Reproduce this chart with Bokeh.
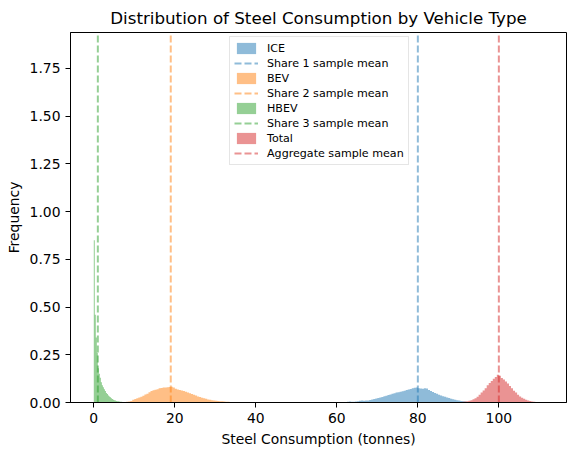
import numpy as np
from bokeh.plotting import figure
from bokeh.models import Legend, LegendItem, FixedTicker, Range1d, CustomJSTickFormatter
from bokeh.embed import file_html
from bokeh.resources import INLINE

# ---------------- data ----------------
categories = ["ICE", "BEV", "HBEV", "Total"]
mean_labels = ["Share 1 sample mean", "Share 2 sample mean", "Share 3 sample mean", "Aggregate sample mean"]
sample_means = [80.0, 19.0, 1.0, 100.0]

ice_start, ice_width = 62.0, 0.5
ice_density = [0.002, 0.004, 0.005, 0.004, 0.004, 0.005, 0.007, 0.009, 0.010, 0.009,
               0.010, 0.011, 0.013, 0.016, 0.018, 0.021, 0.023, 0.026, 0.029, 0.033,
               0.036, 0.039, 0.042, 0.046, 0.049, 0.052, 0.054, 0.056, 0.059, 0.062,
               0.065, 0.068, 0.071, 0.075, 0.077, 0.079, 0.075, 0.073, 0.072, 0.074,
               0.073, 0.066, 0.060, 0.055, 0.050, 0.046, 0.041, 0.037, 0.033, 0.030,
               0.026, 0.023, 0.020, 0.017, 0.015, 0.012, 0.010, 0.008, 0.006, 0.005,
               0.003, 0.002]

bev_start, bev_width = 7.5, 0.5
bev_density = [0.003, 0.004, 0.005, 0.008, 0.014, 0.018, 0.022, 0.026, 0.030, 0.035,
               0.042, 0.046, 0.054, 0.060, 0.064, 0.067, 0.070, 0.074, 0.076, 0.078,
               0.079, 0.080, 0.081, 0.082, 0.079, 0.072, 0.068, 0.066, 0.063, 0.060,
               0.056, 0.052, 0.048, 0.044, 0.041, 0.037, 0.032, 0.029, 0.025, 0.022,
               0.019, 0.016, 0.014, 0.012, 0.011, 0.009, 0.008, 0.007, 0.006, 0.005,
               0.004, 0.004, 0.003, 0.003, 0.002, 0.002, 0.001, 0.001]

hbev_start, hbev_width = 0.0, 0.25
hbev_density = [0.85, 0.46, 0.34, 0.26, 0.18, 0.15, 0.13, 0.106, 0.09, 0.08,
                0.07, 0.06, 0.05, 0.045, 0.037, 0.032, 0.027, 0.022, 0.018, 0.015,
                0.012, 0.010, 0.008, 0.007, 0.006, 0.005, 0.004, 0.004, 0.003, 0.003,
                0.002, 0.002, 0.002, 0.001, 0.001, 0.001]

total_start, total_width = 90.0, 0.5
total_density = [0.002, 0.003, 0.004, 0.005, 0.006, 0.009, 0.012, 0.017, 0.022, 0.030,
                 0.041, 0.052, 0.063, 0.075, 0.090, 0.102, 0.113, 0.124, 0.134, 0.146,
                 0.140, 0.128, 0.120, 0.110, 0.100, 0.086, 0.075, 0.062, 0.052, 0.040,
                 0.032, 0.025, 0.019, 0.014, 0.010, 0.008, 0.005, 0.004, 0.003, 0.002,
                 0.001, 0.001]

x_ticks = [0, 20, 40, 60, 80, 100]
y_ticks = [0.0, 0.25, 0.5, 0.75, 1.0, 1.25, 1.5, 1.75]

# ---------------- styling ----------------
colors = ["#1f77b4", "#ff7f0e", "#2ca02c", "#d62728"]
FONT = "DejaVu Sans"
X0, X1 = -5.75, 116.7
Y0, Y1 = 0.0, 1.938

p = figure(width=576, height=455, output_backend="svg", toolbar_location=None,
           x_range=Range1d(X0, X1), y_range=Range1d(Y0, Y1),
           title="Distribution of Steel Consumption by Vehicle Type",
           min_border_left=70, min_border_right=10, min_border_top=32, min_border_bottom=53)

p.title.text_font = FONT
p.title.text_font_size = "16.7px"
p.title.text_font_style = "normal"
p.title.align = "center"
p.title.text_color = "black"

p.xgrid.visible = False
p.ygrid.visible = False
p.outline_line_color = "black"
p.outline_line_alpha = 1.0
p.outline_line_width = 1
p.background_fill_color = "white"
p.border_fill_color = "white"

hists = [(ice_start, ice_width, ice_density),
         (bev_start, bev_width, bev_density),
         (hbev_start, hbev_width, hbev_density),
         (total_start, total_width, total_density)]

items = []
for (start, width, dens), color, cat, mlab, m in zip(hists, colors, categories, mean_labels, sample_means):
    dens = list(dens)
    edges = start + width * np.arange(len(dens) + 1)
    tops = dens + [0.0]
    r_hist = p.varea_step(x=edges, y1=0, y2=tops, step_mode="after",
                          fill_color=color, fill_alpha=0.5)
    r_line = p.line(x=[m, m], y=[Y0, Y1], line_color=color,
                    line_alpha=0.5, line_width=2, line_dash="7 3")
    items.append(LegendItem(label=cat, renderers=[r_hist]))
    items.append(LegendItem(label=mlab, renderers=[r_line]))

legend = Legend(items=items, location=(159, 237))
legend.label_text_font = FONT
legend.label_text_font_size = "11.1px"
legend.label_text_color = "black"
legend.glyph_width = 24
legend.glyph_height = 14
legend.label_height = 14
legend.spacing = 1
legend.padding = 4
legend.margin = 0
legend.label_standoff = 9
legend.border_line_color = "#cccccc"
legend.border_line_width = 1
legend.background_fill_alpha = 0.8
p.add_layout(legend, "center")

for ax in (p.xaxis[0], p.yaxis[0]):
    ax.axis_label_text_font = FONT
    ax.axis_label_text_font_size = "13.9px"
    ax.axis_label_text_font_style = "normal"
    ax.major_label_text_font = FONT
    ax.major_label_text_font_size = "13.9px"
    ax.major_tick_out = 5
    ax.major_tick_in = 0
    ax.minor_tick_out = 0
    ax.minor_tick_in = 0
    ax.axis_line_color = "black"
    ax.major_tick_line_color = "black"
    ax.major_label_text_color = "black"
    ax.axis_label_text_color = "black"

p.xaxis.axis_label = "Steel Consumption (tonnes)"
p.yaxis.axis_label = "Frequency"
p.xaxis.ticker = FixedTicker(ticks=x_ticks)
p.yaxis.ticker = FixedTicker(ticks=y_ticks)
p.yaxis.formatter = CustomJSTickFormatter(code="return tick.toFixed(2);")
p.yaxis.major_label_orientation = "horizontal"

open("out.html", "w").write(file_html(p, INLINE))
